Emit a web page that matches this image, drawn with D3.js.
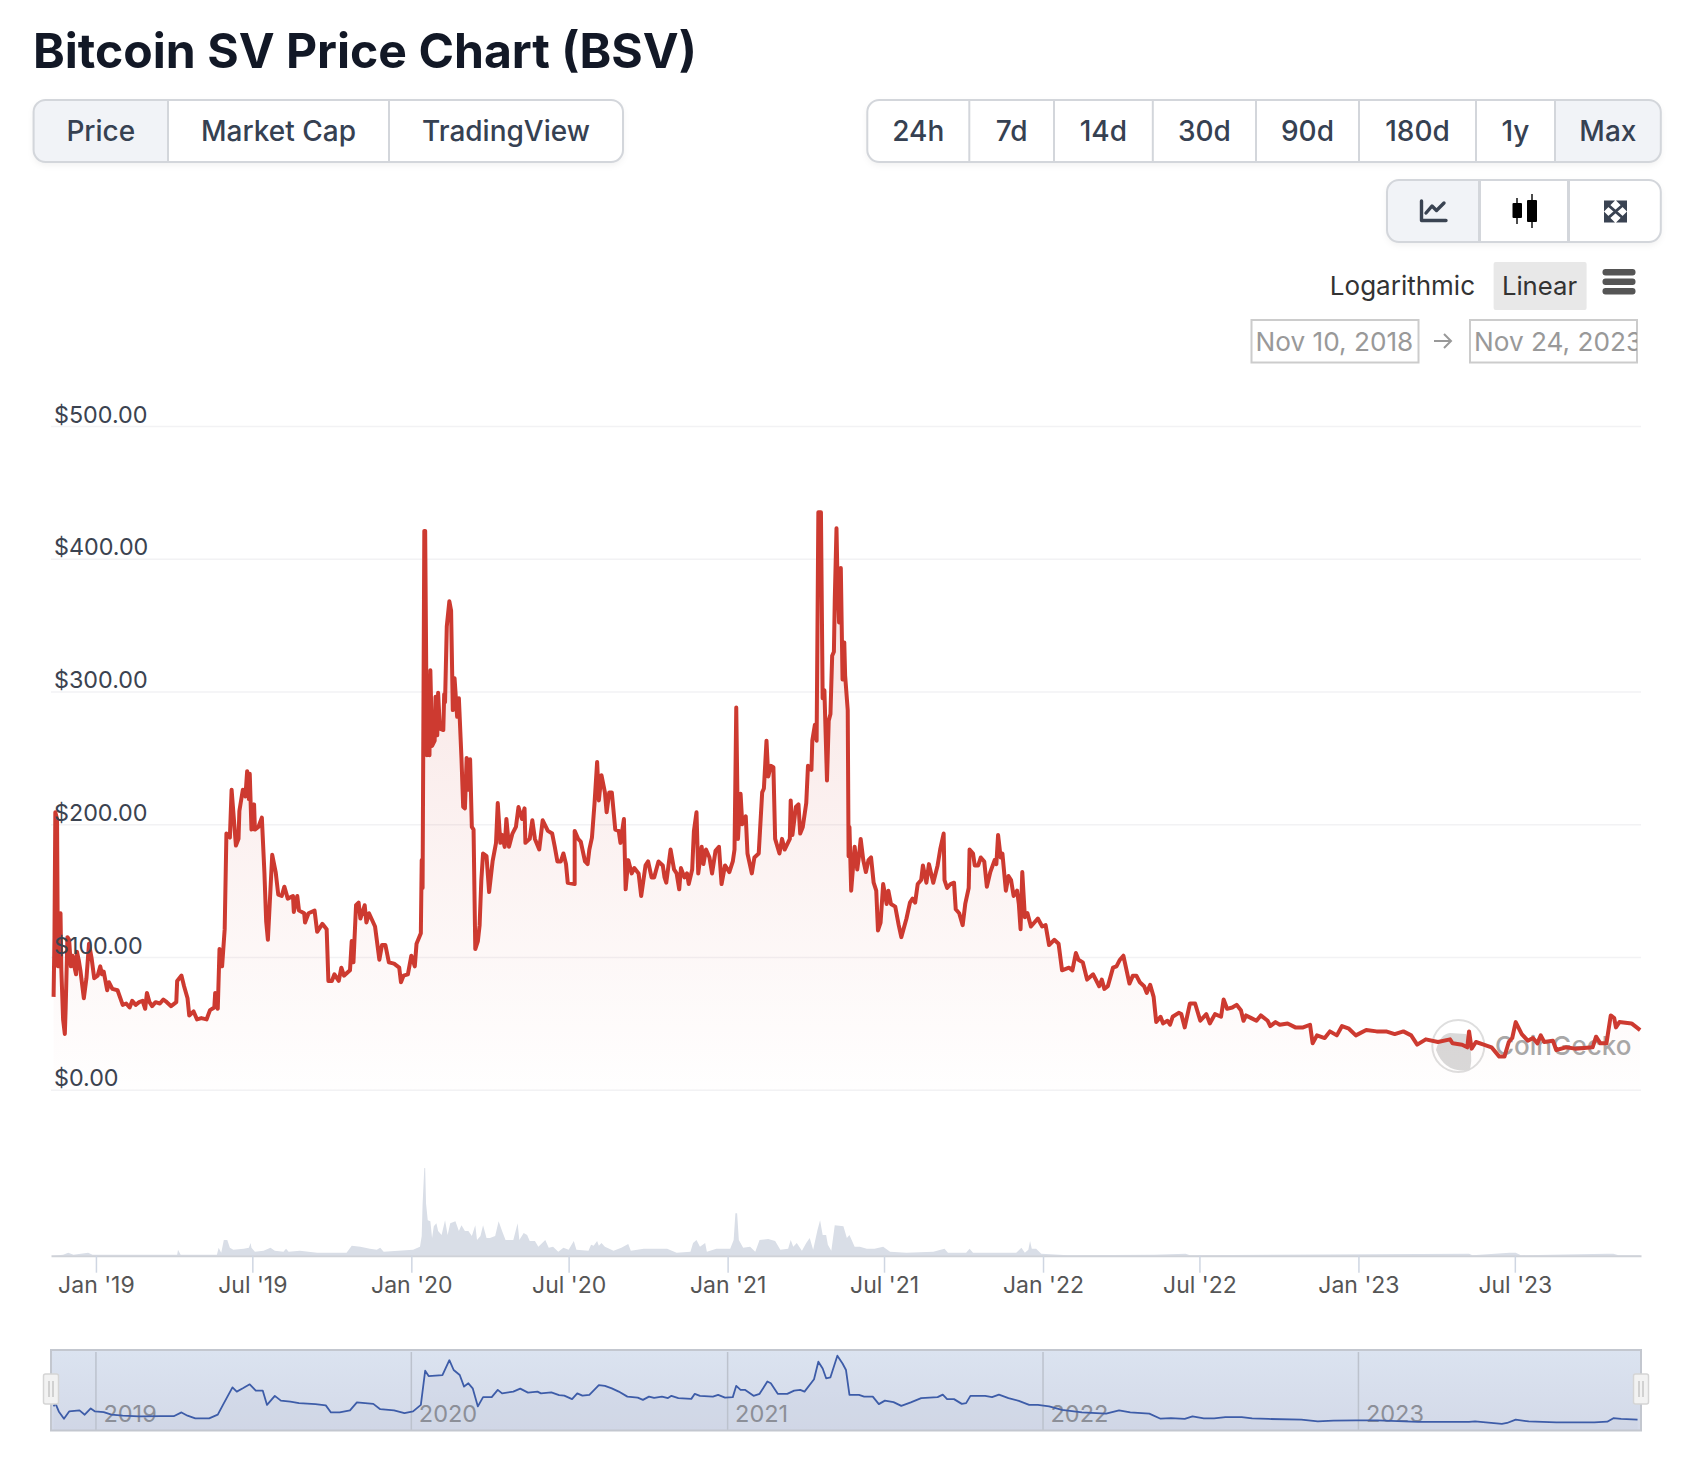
<!DOCTYPE html>
<html>
<head>
<meta charset="utf-8">
<title>Bitcoin SV Price Chart (BSV)</title>
<style>
  html, body { margin: 0; padding: 0; background: #fff; }
  svg { display: block; font-family: Inter, "Noto Sans", sans-serif; }
</style>
</head>
<body>
<svg width="1702" height="1480"></svg>
<script src="https://d3js.org/d3.v7.min.js"></script>
<script>
// data. days are counted from startDate
const startDate = "2018-11-10";
const endDate = "2023-11-24";

const priceDays = [
  3,4,5,7,8,10,11,12,14,16,17,19,21,23,25,27,29,30,32,34,38,41,44,47,50,54,57,59,61,65,67,71,77,83,87,91,94,98,102,106,
  109,111,114,117,121,126,130,134,139,145,146,151,154,158,160,165,169,174,180,184,189,190,193,195,198,201,203,207,209,214,
  217,218,222,225,227,229,230,232,235,236,240,244,247,249,251,256,260,263,267,270,274,280,281,285,287,293,294,298,305,308,
  314,319,321,325,328,333,336,339,346,348,350,353,356,358,363,365,368,375,380,383,387,391,397,403,405,408,413,417,421,423,
  428,429,430,432,433,435,436,438,439,441,444,445,447,448,450,454,455,456,458,461,463,465,467,470,472,475,477,479,481,483,
  485,487,489,491,494,496,498,500,504,507,511,515,517,520,522,525,527,530,534,538,541,545,548,549,554,557,560,565,569,575,
  580,583,586,590,593,596,598,606,606,610,613,618,621,623,626,629,632,634,637,641,643,646,649,653,657,659,663,665,668,672,
  675,680,683,688,691,695,698,703,708,710,712,717,721,724,727,729,733,736,738,742,744,747,749,753,755,758,762,765,769,773,
  776,780,785,789,791,793,795,798,800,804,806,811,814,819,823,825,828,830,833,836,838,843,846,849,855,856,858,862,865,867,
  870,874,876,880,881,884,886,888,891,893,895,898,900,902,904,906,907,909,910,912,914,916,918,919,922,923,924,926,930,933,
  935,937,940,943,946,949,952,955,957,960,963,967,969,972,977,981,984,990,994,997,1000,1003,1007,1009,1013,1016,1021,1026,1029,1033,
  1034,1037,1041,1045,1047,1051,1055,1058,1062,1063,1067,1069,1073,1076,1080,1083,1087,1092,1094,1096,1099,1101,1105,1108,1111,1114,1118,1120,1122,1124,
  1127,1130,1134,1138,1142,1147,1151,1155,1161,1166,1170,1178,1182,1186,1189,1194,1199,1206,1213,1216,1219,1223,1229,1233,1237,1241,1245,1248,1252,1256,
  1260,1265,1268,1272,1276,1279,1284,1287,1292,1295,1298,1305,1308,1312,1318,1324,1330,1337,1341,1347,1354,1357,1361,1367,1372,1377,1380,1383,1389,1395,
  1400,1408,1411,1417,1422,1431,1440,1449,1457,1460,1465,1474,1480,1488,1494,1502,1510,1522,1534,1545,1555,1565,1574,1581,1591,1605,1619,1622,1633,1639,
  1641,1644,1649,1658,1667,1676,1682,1687,1691,1695,1702,1709,1715,1720,1724,1728,1738,1742,1753,1764,1784,1788,1793,1800,1805,1809,1811,1815,1829,1835,1839
];
const priceValues = [
  70,115,209,204,93,115,133,90,53,42,62,115,113,93,101,93,87,104,98,90,69,84,110,99,84,86,93,87,89,75,81,76,75,64,65,62,67,64,66,67,
  61,73,66,63,66,65,68,66,63,66,82,86,78,69,56,59,53,54,53,60,62,73,61,106,93,121,193,190,226,184,
  189,210,226,221,240,219,238,196,215,196,198,205,163,127,113,177,164,147,146,153,144,146,134,146,135,133,126,133,135,119,
  125,121,82,82,87,82,92,86,90,112,96,139,141,129,139,126,133,123,98,109,109,96,95,92,81,86,87,101,93,110,
  118,173,152,421,421,252,312,252,316,259,263,296,267,299,272,271,298,292,349,368,361,286,310,281,295,250,213,212,250,226,
  249,198,196,106,112,124,158,178,176,149,172,186,216,186,192,183,204,183,193,198,213,204,212,186,189,203,189,181,203,195,
  193,183,172,172,178,170,156,155,195,189,187,172,170,181,190,216,247,218,237,224,209,224,224,196,195,186,204,151,173,163,
  167,163,146,169,172,160,160,172,169,160,156,181,166,163,151,167,160,163,155,166,195,209,163,183,170,181,175,163,180,183,
  155,169,164,172,181,288,189,223,200,206,178,163,175,178,224,227,263,236,244,243,189,178,189,181,189,218,192,213,215,193,
  198,216,244,241,263,275,263,435,435,295,301,233,278,283,327,330,369,423,389,352,393,309,337,312,286,176,198,150,183,166,
  176,189,173,164,173,175,156,150,120,126,155,140,150,140,138,124,115,129,141,144,141,155,158,169,156,170,156,169,181,193,
  158,152,155,156,136,133,124,140,152,181,178,169,169,175,172,153,164,173,170,192,175,178,150,161,158,146,150,140,121,164,
  130,133,123,126,129,123,124,109,113,110,90,92,90,103,98,96,83,87,78,83,76,78,92,93,98,101,89,80,86,86,
  81,78,73,79,70,51,55,50,52,49,55,58,57,47,65,65,52,57,50,57,55,68,61,62,64,60,52,56,54,52,
  56,52,48,51,49,50,47,47,49,35,41,39,44,41,48,46,41,45,44,44,42,44,41,34,38,36,38,35,34,32,
  44,31,36,34,32,25,25,36,39,51,42,37,39,35,41,36,37,30,32,31,32,40,35,35,56,54,47,51,50,47,45
];

const volumeDays = [
  3,14,20,26,43,48,146,147,150,192,194,197,200,204,207,211,223,229,231,232,236,246,254,259,269,272,275,288,308,327,342,348,358,369,377,381,385,419,427,429,
  430,432,433,434,436,439,441,443,446,448,452,456,459,462,468,472,475,479,483,487,491,493,497,500,504,508,514,518,522,526,535,540,542,547,551,554,560,564,572,576,
  581,587,593,599,605,608,622,625,628,632,634,637,641,651,660,668,671,686,713,724,740,743,747,751,757,759,770,786,790,792,794,796,801,809,815,820,830,838,844,853,
  856,859,863,869,874,878,882,887,890,893,897,899,903,907,917,921,924,930,936,944,953,963,971,990,1021,1034,1038,1059,1063,1067,1117,1123,1127,1131,1133,1135,1140,1146,
  1177,1277,1313,1318,1641,1645,1688,1695,1701,1801,1808,1814,1839
];
const volumeValues = [
  0,1,3,1,3,1,1,6,1,1,8,3,16,16,8,6,7,8,13,8,4,5,8,5,4,7,4,5,3,3,3,10,9,7,6,8,4,6,9,20,
  52,89,89,53,36,35,18,30,33,25,21,36,21,33,35,25,31,25,25,20,31,16,20,31,18,18,20,35,25,16,16,33,16,23,21,15,15,9,16,8,
  9,4,8,6,15,6,5,11,10,15,10,13,9,5,8,12,5,7,7,3,4,13,16,9,13,4,7,7,16,43,43,16,8,9,4,16,17,15,6,7,
  16,9,13,5,13,18,6,26,36,21,21,11,5,31,30,18,21,9,9,7,7,9,4,3,4,7,3,3,7,3,3,8,3,6,15,7,7,2,
  0.5,1,2,0.5,2,0.5,3,3,0.5,2,2,0.5,0.5
];

const navDays = [
  3,5,9,15,21,33,39,46,51,61,70,83,102,127,142,151,158,167,183,193,199,210,215,222,230,237,245,250,259,266,277,287,306,318,324,334,346,354,373,381,
  397,409,419,428,433,437,453,461,466,473,478,483,488,494,500,510,517,522,535,543,552,563,567,579,588,594,603,609,615,623,634,641,649,657,667,679,685,692,698,707,
  714,718,726,741,745,751,766,772,780,789,793,798,803,813,820,829,833,841,852,860,867,872,883,888,893,897,902,910,916,920,924,935,941,951,958,965,975,984,995,1007,
  1026,1032,1037,1045,1054,1059,1064,1081,1089,1097,1108,1120,1132,1142,1155,1170,1193,1221,1236,1249,1271,1284,1296,1312,1321,1334,1346,1359,1378,1390,1409,1447,1466,1484,1510,1535,1582,1641,1648,1679,
  1685,1695,1710,1742,1786,1801,1808,1817,1836
];
const navValues = [
  98,111,78,49,78,82,65,90,78,75,65,61,58,59,59,74,61,50,50,65,104,174,157,170,186,161,161,104,140,121,117,111,107,102,74,74,82,114,108,87,
  82,71,78,104,240,219,223,282,243,223,177,190,170,98,135,135,164,150,157,169,153,157,150,154,143,141,127,150,141,144,183,180,170,157,137,133,124,137,132,137,
  131,140,131,128,148,140,137,144,133,135,180,164,164,140,148,197,190,148,148,161,164,157,206,276,249,210,214,300,269,243,144,144,137,137,107,121,115,100,114,131,
  135,145,127,127,108,111,140,140,135,145,131,120,104,104,98,84,74,69,82,74,69,49,51,48,58,50,50,55,55,50,48,45,38,41,42,42,36,36,38,28,
  32,45,38,34,34,37,51,48,45
];

const yTicks = [0, 100, 200, 300, 400, 500];
const xTickDates = ["2019-01-01","2019-07-01","2020-01-01","2020-07-01","2021-01-01","2021-07-01","2022-01-01","2022-07-01","2023-01-01","2023-07-01"];
const navYearDates = ["2019-01-01","2020-01-01","2021-01-01","2022-01-01","2023-01-01"];

const tabLabels = ["Price", "Market Cap", "TradingView"];
const rangeLabels = ["24h", "7d", "14d", "30d", "90d", "180d", "1y", "Max"];
const dateLabels = ["Nov 10, 2018", "Nov 24, 2023"];

// layout
const tabEdges = [33.6, 168, 389, 623];
const rangeEdges = [867.3, 969.3, 1054, 1152.8, 1256, 1359, 1476, 1555, 1660.8];
const iconEdges = [1387, 1479.5, 1568.5, 1660.8];
const dateBoxLefts = [1251.5, 1470];
const left = 51, right = 1641;

const svg = d3.select("svg");
const parse = d3.utcParse("%Y-%m-%d");
const start = parse(startDate);
const dayToDate = d => d3.utcDay.offset(start, d);

const x = d3.scaleUtc().domain([start, parse(endDate)]).range([left, right]);
const y = d3.scaleLinear().domain([0, 500]).range([1089.8, 426]);
const yVol = d3.scaleLinear().domain([0, 88]).range([1255.7, 1169]);
const yNav = d3.scaleLinear().domain([0, 300]).range([1431, 1355.7]);

// gradients and clips
const defs = svg.append("defs");
const areaGrad = defs.append("linearGradient").attr("id", "priceFill")
  .attr("gradientUnits", "userSpaceOnUse").attr("x1", 0).attr("x2", 0).attr("y1", y(435)).attr("y2", y(0));
areaGrad.append("stop").attr("offset", 0).attr("stop-color", "#cc3a30").attr("stop-opacity", 0.15);
areaGrad.append("stop").attr("offset", 1).attr("stop-color", "#cc3a30").attr("stop-opacity", 0.004);
const navGrad = defs.append("linearGradient").attr("id", "navBg").attr("x1", 0).attr("x2", 0).attr("y1", 0).attr("y2", 1);
navGrad.append("stop").attr("offset", 0).attr("stop-color", "#dbe3f0");
navGrad.append("stop").attr("offset", 1).attr("stop-color", "#d3d9e8");
const shadow = defs.append("filter").attr("id", "btnShadow").attr("x", "-5%").attr("y", "-20%").attr("width", "110%").attr("height", "150%");
shadow.append("feDropShadow").attr("dx", 0).attr("dy", 3).attr("stdDeviation", 3).attr("flood-color", "#101828").attr("flood-opacity", 0.06);

// title
svg.append("text").attr("x", 33).attr("y", 68)
  .attr("font-size", 48.1).attr("font-weight", 700).attr("fill", "#121826")
  .text("Bitcoin SV Price Chart (BSV)");

function buttonGroup(id, edges, top, bottom, labels, active, dividerWidth) {
  const g = svg.append("g");
  const x0 = edges[0], x1 = edges[edges.length - 1];
  defs.append("clipPath").attr("id", id).append("rect")
    .attr("x", x0).attr("y", top).attr("width", x1 - x0).attr("height", bottom - top).attr("rx", 12);
  g.append("rect").attr("x", x0).attr("y", top).attr("width", x1 - x0).attr("height", bottom - top)
    .attr("rx", 12).attr("fill", "#fff").attr("filter", "url(#btnShadow)");
  g.append("rect").attr("clip-path", `url(#${id})`)
    .attr("x", edges[active]).attr("y", top).attr("width", edges[active + 1] - edges[active]).attr("height", bottom - top)
    .attr("fill", "#f1f3f7");
  g.selectAll("line").data(edges.slice(1, -1)).enter().append("line")
    .attr("x1", d => d).attr("x2", d => d).attr("y1", top).attr("y2", bottom)
    .attr("stroke", "#d3d6db").attr("stroke-width", dividerWidth);
  g.append("rect").attr("x", x0).attr("y", top).attr("width", x1 - x0).attr("height", bottom - top)
    .attr("rx", 12).attr("fill", "none").attr("stroke", "#d3d6db").attr("stroke-width", 2);
  if (labels) {
    g.selectAll("text").data(labels).enter().append("text")
      .attr("x", (d, i) => (edges[i] + edges[i + 1]) / 2).attr("y", (top + bottom) / 2 + 10)
      .attr("text-anchor", "middle").attr("font-size", 28).attr("font-weight", 500).attr("fill", "#364152")
      .text(d => d);
  }
}
buttonGroup("tabClip", tabEdges, 100, 162, tabLabels, 0, 2);
buttonGroup("rangeClip", rangeEdges, 100, 162, rangeLabels, 7, 2);
buttonGroup("iconClip", iconEdges, 180, 242, null, 0, 3);

// chart type icons
svg.append("path").attr("d", "M1421.5 201V220.5H1446M1426 213L1432 206L1436.5 210.5L1444 203")
  .attr("fill", "none").attr("stroke", "#3a4352").attr("stroke-width", 3.4).attr("stroke-linejoin", "round").attr("stroke-linecap", "round");
svg.append("path").attr("d", "M1517 198V224M1532 194V228").attr("stroke", "#111").attr("stroke-width", 1.5);
svg.append("rect").attr("x", 1512.5).attr("y", 203).attr("width", 9.5).attr("height", 15).attr("rx", 1).attr("fill", "#000");
svg.append("rect").attr("x", 1527).attr("y", 200).attr("width", 10).attr("height", 22).attr("rx", 1).attr("fill", "#000");
svg.append("path").attr("d", "M1604 200.5H1615L1604 211.5ZM1627 200.5H1616L1627 211.5ZM1604 222.5H1615L1604 211.5ZM1627 222.5H1616L1627 211.5Z")
  .attr("fill", "#3a4352");
svg.append("path").attr("d", "M1607 204L1624 219M1624 204L1607 219").attr("stroke", "#3a4352").attr("stroke-width", 3);

// scale switch
svg.append("text").attr("x", 1475).attr("y", 295).attr("text-anchor", "end")
  .attr("font-size", 26).attr("fill", "#333").text("Logarithmic");
svg.append("rect").attr("x", 1493.6).attr("y", 262).attr("width", 93).attr("height", 48).attr("rx", 2).attr("fill", "#e8e8e8");
svg.append("text").attr("x", 1539.5).attr("y", 295).attr("text-anchor", "middle")
  .attr("font-size", 25.7).attr("fill", "#333").text("Linear");
svg.selectAll(".burger").data([0, 1, 2]).enter().append("rect").attr("class", "burger")
  .attr("x", 1602.5).attr("y", d => 269 + d * 9.5).attr("width", 33).attr("height", 6.5).attr("rx", 3).attr("fill", "#555");

// date inputs, the text is cut at the box edge like an input field
dateLabels.forEach((t, i) => {
  const bx = dateBoxLefts[i];
  defs.append("clipPath").attr("id", "dateClip" + i).append("rect")
    .attr("x", bx).attr("y", 320).attr("width", 167).attr("height", 42.5);
  svg.append("rect").attr("x", bx).attr("y", 320).attr("width", 167).attr("height", 42.5)
    .attr("fill", "#fff").attr("stroke", "#cccccc").attr("stroke-width", 2);
  svg.append("text").attr("clip-path", `url(#dateClip${i})`)
    .attr("x", bx + 4).attr("y", 351).attr("font-size", 26.2).attr("fill", "#999").text(t);
});
svg.append("path").attr("d", "M1434 341H1451M1444 334L1451 341L1444 348")
  .attr("fill", "none").attr("stroke", "#999").attr("stroke-width", 2);

// watermark sits under the line
const wm = svg.append("g");
wm.append("circle").attr("cx", 1458.3).attr("cy", 1046).attr("r", 26).attr("fill", "#fff").attr("stroke", "#dedede").attr("stroke-width", 2);
wm.append("path").attr("d", "M1436 1050Q1440 1034 1450 1033L1466 1034Q1474 1052 1470 1070Q1445 1074 1436 1050Z").attr("fill", "#d9d9d9");
wm.append("text").attr("x", 1495).attr("y", 1055).attr("font-size", 26).attr("font-weight", 500).attr("fill", "#a8a8a8").text("CoinGecko");

// grid
const gridAxis = d3.axisRight(y).tickValues(yTicks).tickSize(right - left).tickFormat(d => "$" + d.toFixed(2));
const gridG = svg.append("g").attr("transform", `translate(${left},0)`).call(gridAxis);
gridG.select(".domain").remove();
gridG.selectAll("line").attr("stroke", "#f2f2f4").attr("stroke-width", 1.5);
gridG.selectAll("text").remove();

// volume
const volData = d3.zip(volumeDays, volumeValues);
svg.append("path").datum(volData)
  .attr("d", d3.area().x(d => x(dayToDate(d[0]))).y0(yVol(0)).y1(d => yVol(d[1])))
  .attr("fill", "#d9dee7");

// price
const priceData = d3.zip(priceDays, priceValues);
svg.append("path").datum(priceData)
  .attr("d", d3.area().x(d => x(dayToDate(d[0]))).y0(y(0)).y1(d => y(d[1])))
  .attr("fill", "url(#priceFill)");
svg.append("path").datum(priceData)
  .attr("d", d3.line().x(d => x(dayToDate(d[0]))).y(d => y(d[1])))
  .attr("fill", "none").attr("stroke", "#cd3a30").attr("stroke-width", 4).attr("stroke-linejoin", "round");

// y labels on top of the line
const yLabelAxis = d3.axisRight(y).tickValues(yTicks).tickSize(0).tickFormat(d => "$" + d.toFixed(2));
const yLabels = svg.append("g").attr("transform", "translate(54,0)").call(yLabelAxis);
yLabels.select(".domain").remove();
yLabels.selectAll("text").attr("x", 0).attr("dy", -4)
  .attr("font-family", "Inter").attr("font-size", 23.3).attr("fill", "#3b4350");

// time axis
const xAxis = d3.axisBottom(x).tickValues(xTickDates.map(parse)).tickSize(17).tickSizeOuter(0).tickFormat(d3.utcFormat("%b '%y"));
const xG = svg.append("g").attr("transform", `translate(0,${yVol(0)})`).call(xAxis);
xG.select(".domain").attr("stroke", "#cfd2d8").attr("stroke-width", 2);
xG.selectAll("line").attr("stroke", "#cfd6e2").attr("stroke-width", 1.5);
xG.selectAll("text").attr("font-family", "Inter").attr("font-size", 23).attr("fill", "#555").attr("y", 21).attr("dy", "0.71em").attr("dx", 0);

// navigator
const navTop = 1350, navBottom = 1430.5;
const nav = svg.append("g");
nav.append("rect").attr("x", left).attr("y", navTop).attr("width", right - left).attr("height", navBottom - navTop).attr("fill", "url(#navBg)");
const navData = d3.zip(navDays, navValues);
nav.append("path").datum(navData)
  .attr("d", d3.area().x(d => x(dayToDate(d[0]))).y0(navBottom).y1(d => yNav(d[1])))
  .attr("fill", "#c9cfe2").attr("opacity", 0.3);
const navYears = navYearDates.map(parse);
nav.selectAll(".yearTick").data(navYears).enter().append("line").attr("class", "yearTick")
  .attr("x1", d => x(d)).attr("x2", d => x(d)).attr("y1", navTop + 2).attr("y2", navBottom)
  .attr("stroke", "#bcc2cd").attr("stroke-width", 1.5);
nav.selectAll(".yearLabel").data(navYears).enter().append("text").attr("class", "yearLabel")
  .attr("x", d => x(d) + 7.5).attr("y", 1422).attr("font-size", 23.5).attr("fill", "#8c8f98")
  .text(d3.utcFormat("%Y"));
nav.append("path").datum(navData)
  .attr("d", d3.line().x(d => x(dayToDate(d[0]))).y(d => yNav(d[1])))
  .attr("fill", "none").attr("stroke", "#3d5ca8").attr("stroke-width", 1.8).attr("stroke-linejoin", "round");
nav.append("rect").attr("x", left).attr("y", navTop).attr("width", right - left).attr("height", navBottom - navTop)
  .attr("fill", "none").attr("stroke", "#c3c7cf").attr("stroke-width", 2);
[left, right].forEach(hx => {
  nav.append("rect").attr("x", hx - 7.5).attr("y", 1374).attr("width", 15).attr("height", 30).attr("rx", 2)
    .attr("fill", "#f2f2f2").attr("stroke", "#d5d5d5").attr("stroke-width", 1.5);
  nav.append("path").attr("d", `M${hx - 2} 1381V1397M${hx + 2} 1381V1397`).attr("stroke", "#bbb").attr("stroke-width", 1.2);
});
</script>
</body>
</html>
